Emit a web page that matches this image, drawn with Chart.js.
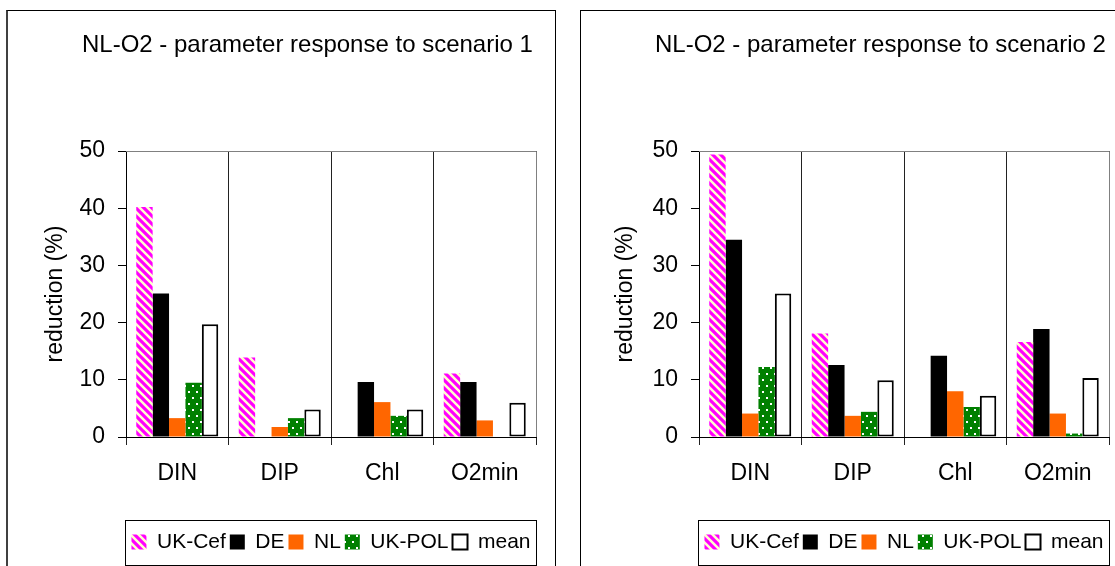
<!DOCTYPE html>
<html lang="en">
<head>
<meta charset="UTF-8">
<title>NL-O2 - parameter response to scenarios</title>
<script src="https://cdn.jsdelivr.net/npm/chart.js"></script>
<style>
    body {
        margin: 0;
        background: #fff;
        width: 1115px;
        height: 566px;
        overflow: hidden;
        position: relative;
    }
    .frame {
        position: absolute;
        box-sizing: border-box;
        border: 1px solid #000;
    }
    #frame1 { left: 6px; top: 10px; width: 550px; height: 600px; border-left: 2px solid #404040; }
    #frame2 { left: 580px; top: 10px; width: 600px; height: 600px; }
    canvas { position: absolute; }
    #chart1 { left: 7px; top: 11px; }
    #chart2 { left: 581px; top: 11px; }
</style>
</head>
<body>
<div class="frame" id="frame1"></div>
<div class="frame" id="frame2"></div>
<canvas id="chart1" width="548" height="555"></canvas>
<canvas id="chart2" width="534" height="555"></canvas>

<script>
    // categories and series names
    const categories = ['DIN', 'DIP', 'Chl', 'O2min'];
    const seriesNames = ['UK-Cef', 'DE', 'NL', 'UK-POL', 'mean'];
    const yTicks = [0, 10, 20, 30, 40, 50];

    // scenario 1 (reduction %)
    const s1UkCef = [40.2, 13.9, 0, 11.1];
    const s1De    = [25.1, 0, 9.6, 9.6];
    const s1Nl    = [3.3, 1.75, 6.1, 2.9];
    const s1UkPol = [9.5, 3.3, 3.7, 0];
    const s1Mean  = [19.7, 4.8, 4.8, 6.0];

    // scenario 2 (reduction %)
    const s2UkCef = [49.4, 18.1, 0, 16.6];
    const s2De    = [34.5, 12.6, 14.2, 18.9];
    const s2Nl    = [4.1, 3.7, 8.0, 4.1];
    const s2UkPol = [12.25, 4.4, 5.25, 0.6];
    const s2Mean  = [25.1, 9.9, 7.2, 10.3];

    const FONT = 'Arial, "Liberation Sans", sans-serif';
    Chart.defaults.font.family = FONT;
    Chart.defaults.color = '#000';

    // magenta bars with light yellow downward diagonal stripes
    function stripePattern() {
        const c = document.createElement('canvas');
        c.width = 8; c.height = 8;
        const g = c.getContext('2d');
        g.fillStyle = '#ff00ff';
        g.fillRect(0, 0, 8, 8);
        g.strokeStyle = '#ffffcc';
        g.lineWidth = 2.5;
        g.beginPath();
        for (const d of [-8, 0, 8]) {
            g.moveTo(d - 1, -1);
            g.lineTo(d + 9, 9);
        }
        g.stroke();
        return g.createPattern(c, 'repeat');
    }

    // green bars with small white dots
    function dotPattern() {
        const c = document.createElement('canvas');
        c.width = 8; c.height = 12;
        const g = c.getContext('2d');
        g.fillStyle = '#008000';
        g.fillRect(0, 0, 8, 12);
        g.fillStyle = '#ffffff';
        g.fillRect(1, 2, 2, 2);
        g.fillRect(5, 8, 2, 2);
        return g.createPattern(c, 'repeat');
    }

    // title, grey plot edge and legend frame, all placed off the chart area
    const sheetPlugin = {
        id: 'sheet',
        afterDraw(chart, args, opts) {
            const ctx = chart.ctx;
            const a = chart.chartArea;
            ctx.save();
            ctx.strokeStyle = '#808080';
            ctx.lineWidth = 1;
            ctx.beginPath();
            ctx.moveTo(a.left, Math.round(a.top) + 0.5);
            ctx.lineTo(Math.round(a.right) + 0.5, Math.round(a.top) + 0.5);
            ctx.lineTo(Math.round(a.right) + 0.5, a.bottom);
            ctx.stroke();

            ctx.fillStyle = '#000';
            ctx.font = '24px ' + FONT;
            ctx.textBaseline = 'alphabetic';
            ctx.fillText(opts.text, a.left - 44, a.top - 99);

            const boxes = chart.legend.legendHitBoxes;
            if (boxes && boxes.length) {
                const cy = boxes[0].top + boxes[0].height / 2;
                ctx.strokeStyle = '#000';
                ctx.strokeRect(Math.round(a.left) - 0.5, Math.round(cy) - 21.5, Math.round(a.right - a.left) + 1, 45);
            }
            ctx.restore();
        }
    };

    function makeChart(id, title, values, yWidth, padRight, yTitlePad) {
        const stripes = stripePattern();
        const dots = dotPattern();
        const styles = [
            { backgroundColor: stripes, borderColor: '#ff00ff', borderWidth: 0 },
            { backgroundColor: '#000000', borderColor: '#000000', borderWidth: 0 },
            { backgroundColor: '#ff6600', borderColor: '#ff6600', borderWidth: 0 },
            { backgroundColor: dots, borderColor: '#008000', borderWidth: 0 },
            { backgroundColor: '#ffffff', borderColor: '#000000', borderWidth: 2, borderSkipped: false }
        ];

        return new Chart(document.getElementById(id), {
            type: 'bar',
            data: {
                labels: categories,
                datasets: seriesNames.map((name, i) => Object.assign({
                    label: name,
                    data: values[i],
                    categoryPercentage: 0.8,
                    barPercentage: 1.0
                }, styles[i]))
            },
            plugins: [sheetPlugin],
            options: {
                responsive: false,
                animation: false,
                layout: { padding: { top: 140, left: 0, right: padRight, bottom: 3.5 } },
                scales: {
                    x: {
                        grid: { offset: true, color: '#222', lineWidth: 1, tickLength: 8 },
                        border: { color: '#000', width: 1 },
                        ticks: { font: { size: 23 }, padding: 15, color: '#000' },
                        afterFit(s) { s.height = 90.5; }
                    },
                    y: {
                        min: 0,
                        max: 50,
                        afterBuildTicks(s) { s.ticks = yTicks.map(v => ({ value: v })); },
                        grid: { drawOnChartArea: false, color: '#000', tickLength: 8 },
                        border: { color: '#000', width: 1 },
                        ticks: { font: { size: 23 }, padding: 13, color: '#000' },
                        title: {
                            display: true,
                            text: 'reduction (%)',
                            font: { size: 23 },
                            color: '#000',
                            padding: { top: yTitlePad, bottom: 0 }
                        },
                        afterFit(s) { s.width = yWidth; }
                    }
                },
                plugins: {
                    sheet: { text: title },
                    tooltip: { enabled: false },
                    legend: {
                        position: 'bottom',
                        fullSize: false,
                        labels: {
                            font: { size: 21 },
                            color: '#000',
                            boxWidth: 15,
                            boxHeight: 15,
                            padding: 4
                        }
                    }
                }
            }
        });
    }

    makeChart('chart1', 'NL-O2 - parameter response to scenario 1',
        [s1UkCef, s1De, s1Nl, s1UkPol, s1Mean], 119, 19, 35);
    makeChart('chart2', 'NL-O2 - parameter response to scenario 2',
        [s2UkCef, s2De, s2Nl, s2UkPol, s2Mean], 118, 6, 31);
</script>
</body>
</html>
